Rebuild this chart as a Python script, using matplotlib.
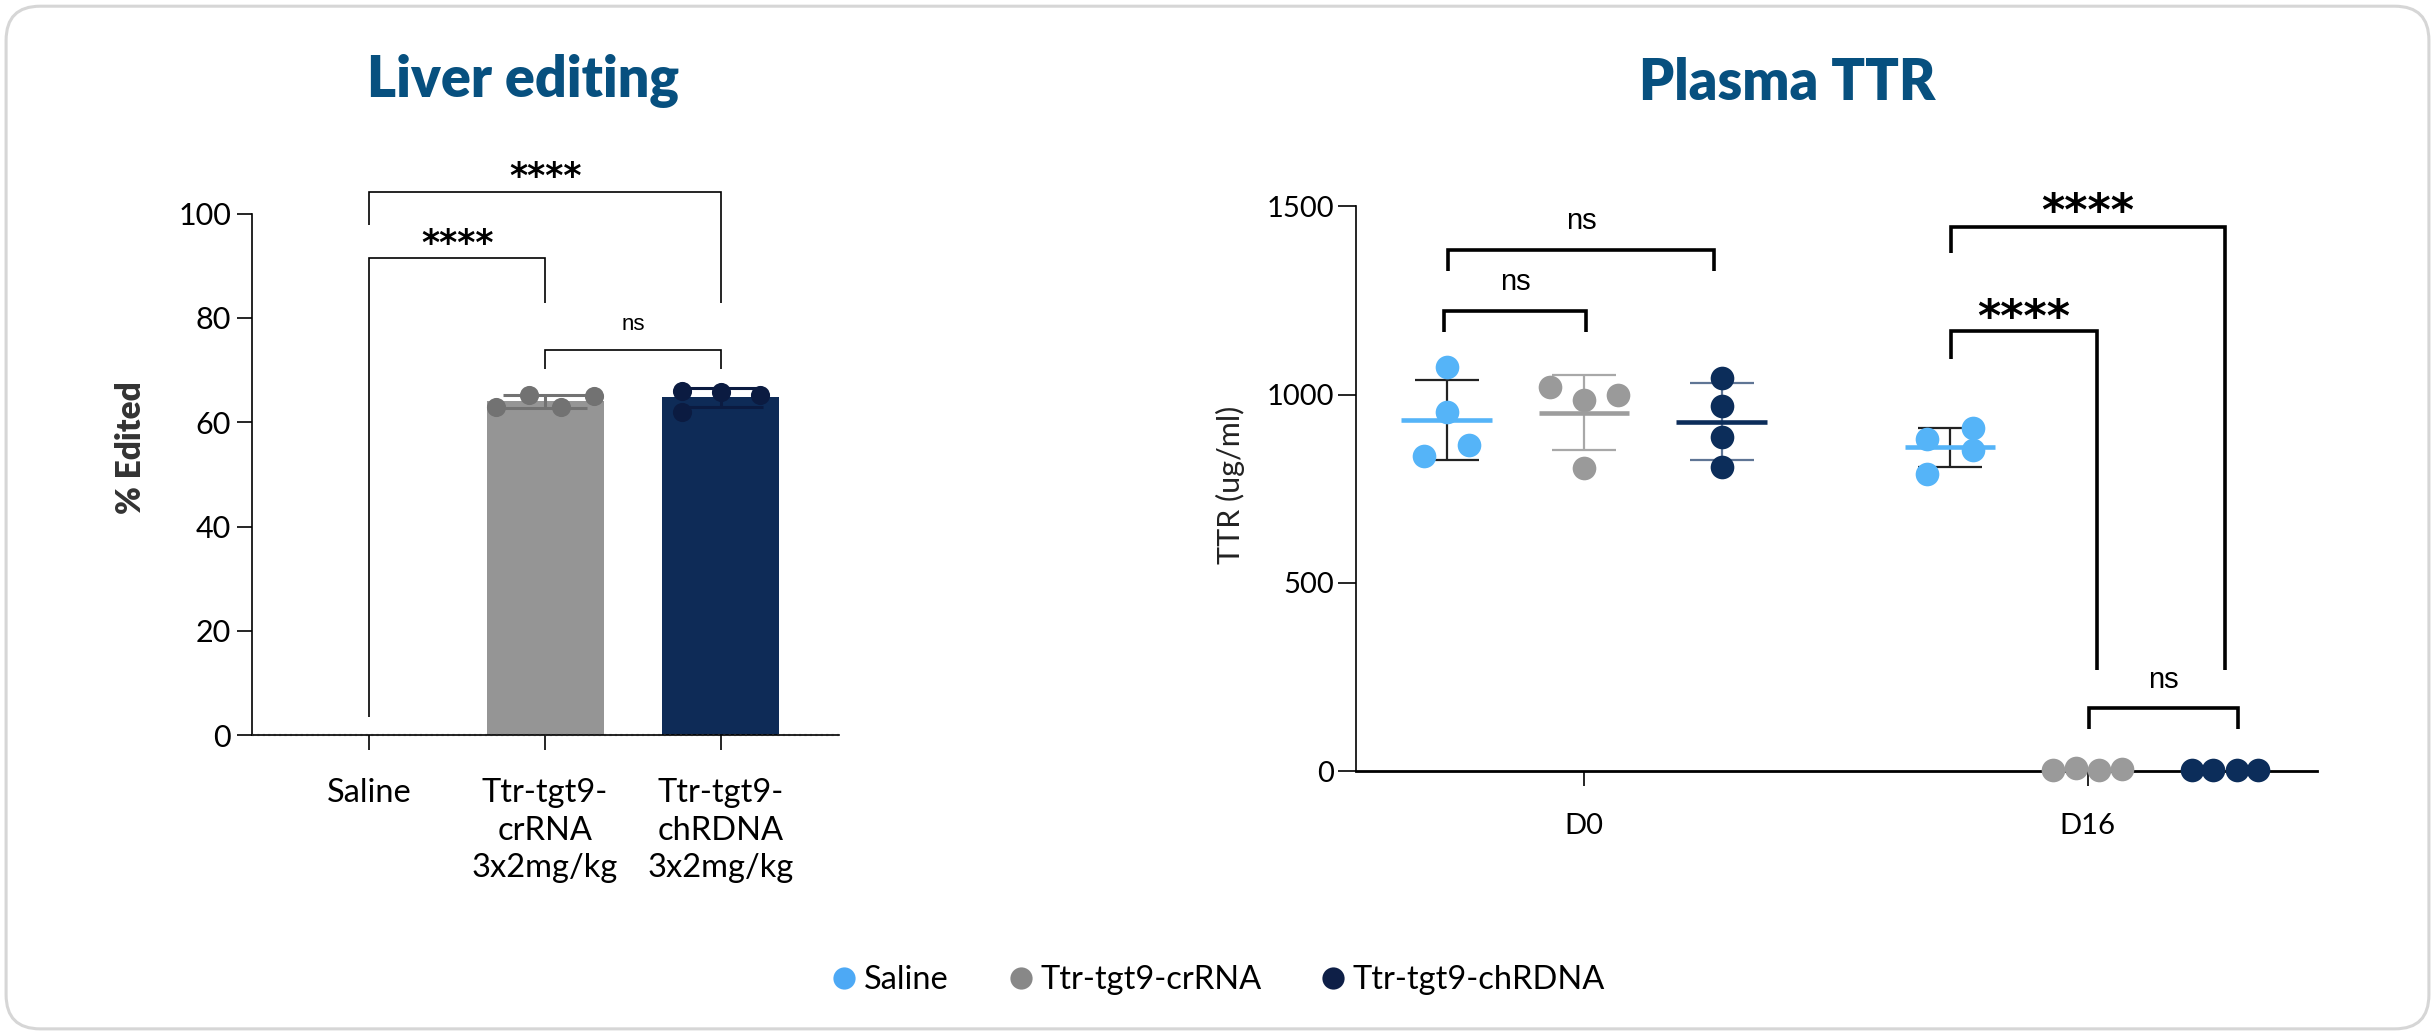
import numpy as np
import matplotlib.pyplot as plt
from matplotlib.patches import FancyBboxPatch
from matplotlib.lines import Line2D
from matplotlib.transforms import offset_copy

plt.rcParams['font.family'] = ['Lato', 'DejaVu Sans']

# ---- Liver editing (% edited) ----
edit_groups = ['Saline', 'Ttr-tgt9-\ncrRNA\n3x2mg/kg', 'Ttr-tgt9-\nchRDNA\n3x2mg/kg']
edit_saline = []
edit_crrna = [62.9, 65.2, 63.0, 65.1]
edit_chrdna = [66.0, 62.0, 65.9, 65.2]

# ---- Plasma TTR (ug/ml) ----
ttr_days = ['D0', 'D16']
ttr_saline = [[1074, 955, 866, 838], [883, 790, 912, 854]]
ttr_crrna = [[1019, 986, 999, 804], [3, 8, 2, 6]]
ttr_chrdna = [[1045, 970, 888, 809], [2, 2, 2, 2]]

legend_labels = ['Saline', 'Ttr-tgt9-crRNA', 'Ttr-tgt9-chRDNA']

BLUE = '#55b4f8'
GRAY = '#9a9a9a'
NAVY = '#0c2d5a'
TITLE = '#07507f'

fig = plt.figure(figsize=(24.35, 10.33), dpi=100)
fig.patch.set_facecolor('white')
frame = FancyBboxPatch((0.0025, 0.004), 0.995, 0.99, boxstyle='round,pad=0,rounding_size=0.014',
                       transform=fig.transFigure, fc='none', ec='#d6d6d6', lw=2.2,
                       mutation_aspect=2435 / 1033, zorder=-5)
fig.patches.append(frame)

fig.text(0.2148, 0.906, 'Liver editing', ha='center', va='baseline', fontsize=40,
         fontweight='heavy', color=TITLE)
fig.text(0.7339, 0.903, 'Plasma TTR', ha='center', va='baseline', fontsize=40,
         fontweight='heavy', color=TITLE)


def bracket(ax, x1, x2, y, y1, y2, label, lw, fs, ty):
    ax.plot([x1, x1, x2, x2], [y1, y, y, y2], color='black', lw=lw, clip_on=False,
            solid_joinstyle='miter', solid_capstyle='butt')
    xm = (x1 + x2) / 2
    if label.startswith('*'):
        # asterisks sit high in the em box, so shift the baseline down from the centre
        tr = offset_copy(ax.transData, fig=fig, y=-0.57 * fs, units='points')
        ax.text(xm, ty, label, transform=tr, ha='center', va='baseline', fontsize=fs,
                fontweight='bold', family='DejaVu Sans', color='black')
    else:
        ax.text(xm, ty, label, ha='center', va='center', fontsize=fs,
                family='Liberation Sans', color='black')


# ---------------- left panel: bars ----------------
ax1 = fig.add_axes([0.1035, 0.2882, 0.2411, 0.5050])
ax1.patch.set_alpha(0)
xpos = np.arange(len(edit_groups))
means = [np.mean(v) if len(v) else 0.0 for v in (edit_saline, edit_crrna, edit_chrdna)]
ax1.bar(xpos, means, width=0.667, color=['white', '#959595', '#0e2b57'], zorder=2)

offs_cr = [-0.28, -0.09, 0.09, 0.28]
offs_ch = [-0.22, -0.22, 0.0, 0.22]
for i, vals, offs, c in [(1, edit_crrna, offs_cr, '#727272'), (2, edit_chrdna, offs_ch, '#0b1b41')]:
    m, sd = np.mean(vals), np.std(vals, ddof=1)
    ax1.errorbar(i, m, yerr=sd, color=c, capsize=30, capthick=2.2, elinewidth=2.2, zorder=3)
    ax1.scatter(i + np.array(offs), vals, s=190, color=c, zorder=4, clip_on=False, lw=0)

ax1.axhline(0, color='#222222', lw=1.5, ls=(0, (1, 1.6)), zorder=5, clip_on=False)
ax1.set_xlim(-0.668, 2.673)
ax1.set_ylim(0, 100)
ax1.set_yticks([0, 20, 40, 60, 80, 100])
ax1.set_xticks(xpos)
ax1.set_xticklabels(edit_groups, linespacing=1.3)
for s in ['top', 'right']:
    ax1.spines[s].set_visible(False)
for s in ['left', 'bottom']:
    ax1.spines[s].set_linewidth(1.2)
ax1.tick_params(axis='y', length=11, width=1.2, labelsize=22, pad=4)
ax1.tick_params(axis='x', length=11, width=1.2, labelsize=23.5, pad=20)
fig.text(0.0538, 0.5663, '% Edited', rotation=90, ha='center', va='center', fontsize=24,
         fontweight='heavy', color='#333333')

bracket(ax1, 0, 2, 104.1, 97.9, 82.8, '****', 1.2, 25, 108.9)
bracket(ax1, 0, 1, 91.4, 3.5, 82.8, '****', 1.2, 25, 96.0)
bracket(ax1, 1, 2, 73.9, 70.2, 70.2, 'ns', 1.2, 16, 78.7)

# ---------------- right panel: scatter ----------------
ax2 = fig.add_axes([0.5569, 0.2534, 0.3945, 0.5469])
ax2.patch.set_alpha(0)
gshift = 0.273
styles = [
    (ttr_saline, -gshift, BLUE, BLUE, '#222222'),
    (ttr_crrna, 0.0, GRAY, '#9d9d9d', '#a8a8a8'),
    (ttr_chrdna, gshift, NAVY, NAVY, '#5f7595'),
]
jitter = {
    ('s', 0): [0, 0, 0.045, -0.045], ('s', 1): [-0.045, -0.045, 0.045, 0.045],
    ('c', 0): [-0.068, 0, 0.068, 0], ('c', 1): [-0.068, -0.023, 0.023, 0.068],
    ('n', 0): [0, 0, 0, 0], ('n', 1): [-0.066, -0.023, 0.023, 0.066],
}
for key, (data, shift, pc, mc, ec) in zip('scn', styles):
    for d, vals in enumerate(data):
        x0 = d + shift
        m, sd = np.mean(vals), np.std(vals, ddof=1)
        if m > 100:
            ax2.errorbar(x0, m, yerr=sd, color=ec, capsize=22.8, capthick=1.6,
                         elinewidth=1.6, zorder=2, fmt='none')
            ax2.plot([x0 - 0.09, x0 + 0.09], [m, m], color=mc, lw=3.3, zorder=4,
                     solid_capstyle='butt')
        ax2.scatter(x0 + np.array(jitter[(key, d)]), vals, s=290, color=pc, lw=0,
                    zorder=3, clip_on=False)

ax2.set_xlim(-0.453, 1.455)
ax2.set_ylim(0, 1500)
ax2.set_yticks([0, 500, 1000, 1500])
ax2.set_xticks([0, 1])
ax2.set_xticklabels(ttr_days)
for s in ['top', 'right']:
    ax2.spines[s].set_visible(False)
ax2.spines['left'].set_linewidth(1.2)
ax2.spines['bottom'].set_linewidth(2.0)
ax2.tick_params(axis='y', length=13, width=1.2, labelsize=21, pad=3)
ax2.tick_params(axis='x', length=11, width=1.2, labelsize=21, pad=19)
fig.text(0.5055, 0.5305, 'TTR (ug/ml)', rotation=90, ha='center', va='center', fontsize=22,
         color='#222222')

lwb = 2.6
bracket(ax2, -0.278, 0.004, 1223, 1167, 1167, 'ns', lwb, 21, 1299)
bracket(ax2, -0.270, 0.258, 1385, 1327, 1327, 'ns', lwb, 21, 1461)
bracket(ax2, 0.729, 1.019, 1168, 1095, 269, '****', lwb, 32, 1237)
bracket(ax2, 0.729, 1.272, 1444, 1377, 269, '****', lwb, 32, 1517)
bracket(ax2, 1.002, 1.298, 167, 112, 112, 'ns', lwb, 21, 243)

# ---------------- legend ----------------
handles = [Line2D([], [], ls='', marker='o', markersize=16, markeredgewidth=0, color=c)
           for c in ['#4da9f5', '#888888', '#0e1f47']]
fig.legend(handles, legend_labels, loc='center', bbox_to_anchor=(0.501, 0.0513), ncol=3,
           frameon=False, fontsize=23.5, handletextpad=0.3, columnspacing=1.9,
           handlelength=0.6)

fig.savefig('out.png', dpi=100, facecolor='white')
